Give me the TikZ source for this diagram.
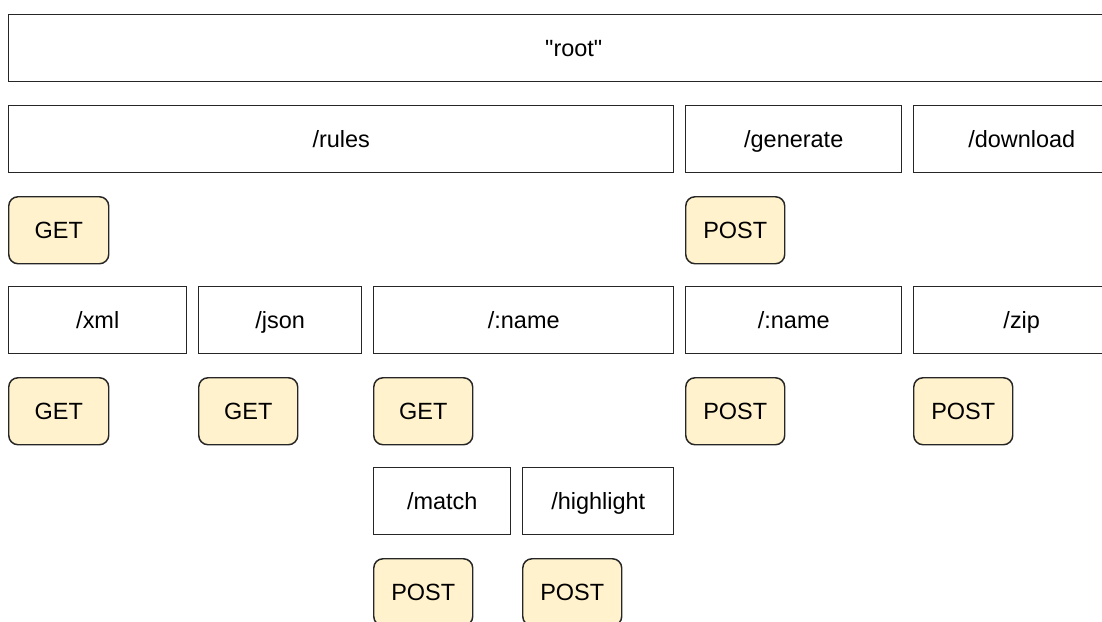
\documentclass[tikz,border=0pt]{standalone}
\usepackage{fontspec}
\setmainfont{Liberation Sans}[Ligatures=TeXOff]
\begin{document}
\begin{tikzpicture}[x=0.75pt,y=-0.75pt,
  base/.style={draw=black!85, line width=1.1pt, inner sep=0pt, anchor=north west,
    minimum height=67*0.75pt, text height=15.8pt, text depth=3.7pt,
    font=\fontsize{17.6pt}{20pt}\selectfont},
  path/.style={base, fill=white, minimum width=#1*0.75pt},
  verb/.style={base, fill=verbfill, rounded corners=7pt, minimum width=#1*0.75pt}]
\definecolor{verbfill}{HTML}{FFF2CC}
\useasboundingbox (0,0) rectangle (1102,621);
\clip (0,0) rectangle (1102,621);
\fill[white] (0,0) rectangle (1102,621);
\node[path=1130] (root) at (8,14) {"root"};
\node[path=665] (rules) at (8,105) {/rules};
\node[path=216] (generate) at (685,105) {/generate};
\node[path=216] (download) at (913,105) {/download};
\node[verb=100] (get1) at (8,196) {GET};
\node[verb=99] (post1) at (685,196) {POST};
\node[path=178] (xml) at (8,286) {/xml};
\node[path=163] (json) at (198,286) {/json};
\node[path=300] (name1) at (373,286) {/:name};
\node[path=216] (name2) at (685,286) {/:name};
\node[path=216] (zip) at (913,286) {/zip};
\node[verb=100] (get2) at (8,377) {GET};
\node[verb=99] (get3) at (198,377) {GET};
\node[verb=99] (get4) at (373,377) {GET};
\node[verb=99] (post2) at (685,377) {POST};
\node[verb=99] (post3) at (913,377) {POST};
\node[path=137] (match) at (373,467) {/match};
\node[path=151] (highlight) at (522,467) {/highlight};
\node[verb=99] (post4) at (373,558) {POST};
\node[verb=99] (post5) at (522,558) {POST};
\end{tikzpicture}
\end{document}
